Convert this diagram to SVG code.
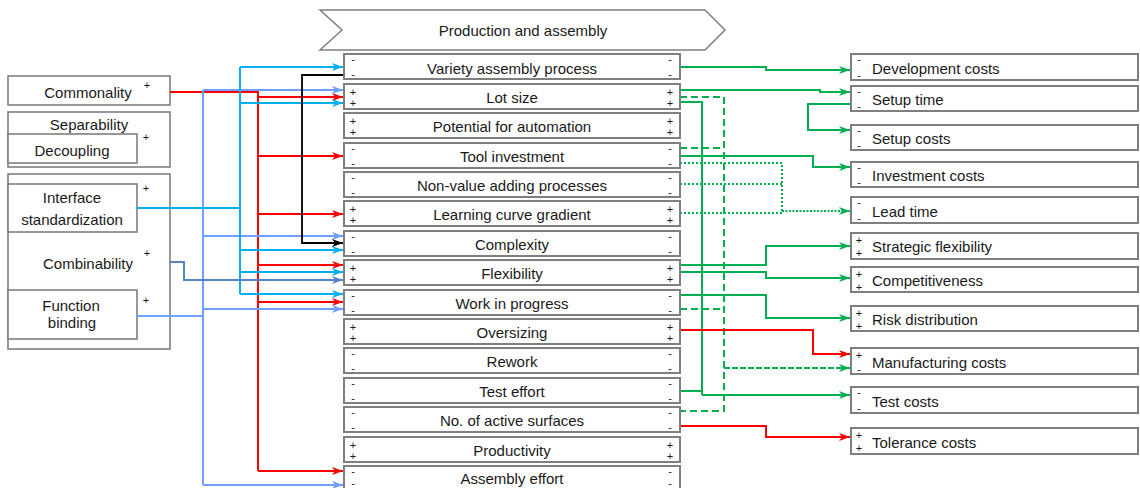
<svg xmlns="http://www.w3.org/2000/svg" width="1140" height="488" viewBox="0 0 1140 488">
  <style>
    .box { fill: #ffffff; stroke: #7f7f7f; stroke-width: 2; }
    .lbox { fill: #ffffff; stroke: #7f7f7f; stroke-width: 1.6; }
    .t { font-family: "Liberation Sans", Arial, sans-serif; font-size: 15px; fill: #1a1a1a; }
    .c { text-anchor: middle; }
    .s { font-family: "Liberation Sans", Arial, sans-serif; font-size: 11px; fill: #1a1a1a; text-anchor: middle; }
    .ln { fill: none; stroke-linejoin: miter; }
    .red { stroke: #ff0000; stroke-width: 2; }
    .cyan { stroke: #00b0f0; stroke-width: 2; }
    .corn { stroke: #6fa0ff; stroke-width: 2; }
    .steel { stroke: #5585c8; stroke-width: 2; }
    .blk { stroke: #000000; stroke-width: 1.8; }
    .grn { stroke: #00b050; stroke-width: 2; }
    .dash { stroke-dasharray: 7 4; }
    .dot { stroke-dasharray: 2 2; }
  </style>
  <defs>
    <marker id="aRed" markerUnits="userSpaceOnUse" markerWidth="12" markerHeight="10" refX="11" refY="5" orient="auto">
      <path d="M0,1 L11,5 L0,9 L3,5 Z" fill="#ff0000"/>
    </marker>
    <marker id="aCyan" markerUnits="userSpaceOnUse" markerWidth="12" markerHeight="10" refX="11" refY="5" orient="auto">
      <path d="M0,1 L11,5 L0,9 L3,5 Z" fill="#00b0f0"/>
    </marker>
    <marker id="aCorn" markerUnits="userSpaceOnUse" markerWidth="12" markerHeight="10" refX="11" refY="5" orient="auto">
      <path d="M0,1 L11,5 L0,9 L3,5 Z" fill="#6fa0ff"/>
    </marker>
    <marker id="aSteel" markerUnits="userSpaceOnUse" markerWidth="12" markerHeight="10" refX="11" refY="5" orient="auto">
      <path d="M0,1 L11,5 L0,9 L3,5 Z" fill="#5585c8"/>
    </marker>
    <marker id="aBlk" markerUnits="userSpaceOnUse" markerWidth="12" markerHeight="10" refX="11" refY="5" orient="auto">
      <path d="M0,1 L11,5 L0,9 L3,5 Z" fill="#000000"/>
    </marker>
    <marker id="aGrn" markerUnits="userSpaceOnUse" markerWidth="12" markerHeight="10" refX="11" refY="5" orient="auto">
      <path d="M0,1 L11,5 L0,9 L3,5 Z" fill="#00b050"/>
    </marker>
  </defs>

  <!-- phase banner -->
  <g id="banner">
    <polygon points="320,10 705,10 725,30 705,50 320,50 342,30" fill="#ffffff" stroke="#7f7f7f" stroke-width="1.5"/>
    <text class="t c" x="523" y="36">Production and assembly</text>
  </g>

  <!-- design properties (left) -->
  <g id="commonality">
    <rect class="lbox" x="8" y="76" width="162" height="29"/>
    <text class="t c" x="88" y="98">Commonality</text>
    <text class="s" x="147" y="89">+</text>
  </g>
  <g id="separability">
    <rect class="lbox" x="8" y="112" width="162" height="55"/>
    <text class="t c" x="89" y="130">Separability</text>
    <text class="s" x="146" y="141">+</text>
    <g id="decoupling">
      <rect class="lbox" x="8" y="134" width="129" height="29"/>
      <text class="t c" x="72" y="156">Decoupling</text>
    </g>
  </g>
  <g id="combinability">
    <rect class="lbox" x="8" y="174" width="162" height="175"/>
    <text class="t c" x="88" y="269">Combinability</text>
    <text class="s" x="147" y="257">+</text>
    <g id="interface-standardization">
      <rect class="lbox" x="8" y="184" width="129" height="48"/>
      <text class="t c" x="72" y="203">Interface</text>
      <text class="t c" x="72" y="225">standardization</text>
      <text class="s" x="146" y="192">+</text>
    </g>
    <g id="function-binding">
      <rect class="lbox" x="8" y="290" width="129" height="49"/>
      <text class="t c" x="71" y="311">Function</text>
      <text class="t c" x="72" y="328">binding</text>
      <text class="s" x="146" y="304">+</text>
    </g>
  </g>

  <!-- connectors -->
  <g id="connectors">
    <!-- Commonality -->
    <path class="ln red" d="M170,92 H258 V471" stroke-width="2.6"/>
    <path class="ln red" d="M258,97 H343" marker-end="url(#aRed)"/>
    <path class="ln red" d="M258,156 H343" marker-end="url(#aRed)"/>
    <path class="ln red" d="M258,214 H343" marker-end="url(#aRed)"/>
    <path class="ln red" d="M258,265 H343" marker-end="url(#aRed)"/>
    <path class="ln red" d="M258,302 H343" marker-end="url(#aRed)"/>
    <path class="ln red" d="M258,471 H343" marker-end="url(#aRed)"/>

    <!-- Function binding -->
    <path class="ln corn" d="M137,316 H203" stroke-width="3"/>
    <path class="ln corn" d="M203,90 V485"/>
    <path class="ln corn" d="M203,90 H343" marker-end="url(#aCorn)"/>
    <path class="ln corn" d="M203,236 H343" marker-end="url(#aCorn)"/>
    <path class="ln corn" d="M203,309 H343" marker-end="url(#aCorn)"/>
    <path class="ln corn" d="M203,485 H343" marker-end="url(#aCorn)"/>

    <!-- Interface standardization -->
    <path class="ln cyan" d="M137,208 H240" stroke-width="3"/>
    <path class="ln cyan" d="M240,67 V294"/>
    <path class="ln cyan" d="M240,67 H343" marker-end="url(#aCyan)"/>
    <path class="ln cyan" d="M240,103 H343" marker-end="url(#aCyan)"/>
    <path class="ln cyan" d="M240,250 H343" marker-end="url(#aCyan)"/>
    <path class="ln cyan" d="M240,272 H343" marker-end="url(#aCyan)"/>
    <path class="ln cyan" d="M240,294 H343" marker-end="url(#aCyan)"/>

    <!-- Combinability -->
    <path class="ln steel" d="M170,262 H184 V280 H343" marker-end="url(#aSteel)"/>

    <!-- Variety assembly process to Complexity -->
    <path class="ln blk" d="M344,75 H302 V243 H343" marker-end="url(#aBlk)"/>

    <!-- effects on cost and performance -->
    <path class="ln grn" d="M680,67 H766 V70 H850" marker-end="url(#aGrn)"/>
    <path class="ln grn" d="M680,90 H820 V92 H850" marker-end="url(#aGrn)"/>
    <path class="ln grn" d="M851,104 H808 V130 H850" marker-end="url(#aGrn)"/>
    <path class="ln grn" d="M680,102 H702 V395"/>
    <path class="ln grn" d="M680,391 H702"/>
    <path class="ln grn" d="M702,395 H850" stroke-width="3" marker-end="url(#aGrn)"/>
    <path class="ln grn dash" d="M680,97 H724 V411 H680"/>
    <path class="ln grn dash" d="M680,148 H724"/>
    <path class="ln grn dash" d="M680,309 H724"/>
    <path class="ln grn" d="M724,368 H850" stroke-width="3" stroke-dasharray="6 2" marker-end="url(#aGrn)"/>
    <path class="ln grn" d="M680,156 H813 V167 H850" marker-end="url(#aGrn)"/>
    <path class="ln grn dot" d="M680,163 H782 V211"/>
    <path class="ln grn dot" d="M680,184 H782"/>
    <path class="ln grn dot" d="M680,213 H782"/>
    <path class="ln grn" d="M782,211 H850" stroke-width="3.5" stroke-dasharray="2 1.5" marker-end="url(#aGrn)"/>
    <path class="ln grn" d="M680,265 H766 V246 H850" marker-end="url(#aGrn)"/>
    <path class="ln grn" d="M680,272 H766 V278 H850" marker-end="url(#aGrn)"/>
    <path class="ln grn" d="M680,295 H766 V318 H850" marker-end="url(#aGrn)"/>
    <path class="ln red" d="M680,330 H813 V354 H850" marker-end="url(#aRed)"/>
    <path class="ln red" d="M680,426 H766 V437 H850" marker-end="url(#aRed)"/>
  </g>

  <!-- production factors (centre) -->
  <g id="variety-assembly-process">
    <rect class="box" x="344" y="54" width="336" height="25"/>
    <text class="t c" x="512" y="74">Variety  assembly  process</text>
    <text class="s" x="353" y="63">-</text><text class="s" x="353" y="78">-</text>
    <text class="s" x="670" y="63">-</text><text class="s" x="670" y="78">-</text>
  </g>
  <g id="lot-size">
    <rect class="box" x="344" y="84" width="336" height="25"/>
    <text class="t c" x="512" y="103">Lot size</text>
    <text class="s" x="353" y="96">+</text><text class="s" x="353" y="107">+</text>
    <text class="s" x="670" y="96">+</text><text class="s" x="670" y="107">+</text>
  </g>
  <g id="potential-for-automation">
    <rect class="box" x="344" y="113" width="336" height="25"/>
    <text class="t c" x="512" y="132">Potential  for automation</text>
    <text class="s" x="353" y="125">+</text><text class="s" x="353" y="136">+</text>
    <text class="s" x="670" y="125">+</text><text class="s" x="670" y="136">+</text>
  </g>
  <g id="tool-investment">
    <rect class="box" x="344" y="143" width="336" height="25"/>
    <text class="t c" x="512" y="162">Tool investment</text>
    <text class="s" x="353" y="152">-</text><text class="s" x="353" y="167">-</text>
    <text class="s" x="670" y="152">-</text><text class="s" x="670" y="167">-</text>
  </g>
  <g id="non-value-adding-processes">
    <rect class="box" x="344" y="172" width="336" height="25"/>
    <text class="t c" x="512" y="191">Non-value adding processes</text>
    <text class="s" x="353" y="181">-</text><text class="s" x="353" y="196">-</text>
    <text class="s" x="670" y="181">-</text><text class="s" x="670" y="196">-</text>
  </g>
  <g id="learning-curve-gradient">
    <rect class="box" x="344" y="201" width="336" height="25"/>
    <text class="t c" x="512" y="220">Learning  curve gradient</text>
    <text class="s" x="353" y="213">+</text><text class="s" x="353" y="224">+</text>
    <text class="s" x="670" y="213">+</text><text class="s" x="670" y="224">+</text>
  </g>
  <g id="complexity">
    <rect class="box" x="344" y="231" width="336" height="25"/>
    <text class="t c" x="512" y="250">Complexity</text>
    <text class="s" x="353" y="240">-</text><text class="s" x="353" y="255">-</text>
    <text class="s" x="670" y="240">-</text><text class="s" x="670" y="255">-</text>
  </g>
  <g id="flexibility">
    <rect class="box" x="344" y="260" width="336" height="25"/>
    <text class="t c" x="512" y="279">Flexibility</text>
    <text class="s" x="353" y="272">+</text><text class="s" x="353" y="283">+</text>
    <text class="s" x="670" y="272">+</text><text class="s" x="670" y="283">+</text>
  </g>
  <g id="work-in-progress">
    <rect class="box" x="344" y="290" width="336" height="25"/>
    <text class="t c" x="512" y="309">Work in progress</text>
    <text class="s" x="353" y="299">-</text><text class="s" x="353" y="314">-</text>
    <text class="s" x="670" y="299">-</text><text class="s" x="670" y="314">-</text>
  </g>
  <g id="oversizing">
    <rect class="box" x="344" y="319" width="336" height="25"/>
    <text class="t c" x="512" y="338">Oversizing</text>
    <text class="s" x="353" y="331">+</text><text class="s" x="353" y="342">+</text>
    <text class="s" x="670" y="331">+</text><text class="s" x="670" y="342">+</text>
  </g>
  <g id="rework">
    <rect class="box" x="344" y="348" width="336" height="25"/>
    <text class="t c" x="512" y="367">Rework</text>
    <text class="s" x="353" y="357">-</text><text class="s" x="353" y="372">-</text>
    <text class="s" x="670" y="357">-</text><text class="s" x="670" y="372">-</text>
  </g>
  <g id="test-effort">
    <rect class="box" x="344" y="378" width="336" height="25"/>
    <text class="t c" x="512" y="397">Test effort</text>
    <text class="s" x="353" y="387">-</text><text class="s" x="353" y="402">-</text>
    <text class="s" x="670" y="387">-</text><text class="s" x="670" y="402">-</text>
  </g>
  <g id="no-of-active-surfaces">
    <rect class="box" x="344" y="407" width="336" height="25"/>
    <text class="t c" x="512" y="426">No. of active  surfaces</text>
    <text class="s" x="353" y="416">-</text><text class="s" x="353" y="431">-</text>
    <text class="s" x="670" y="416">-</text><text class="s" x="670" y="431">-</text>
  </g>
  <g id="productivity">
    <rect class="box" x="344" y="437" width="336" height="25"/>
    <text class="t c" x="512" y="456">Productivity</text>
    <text class="s" x="353" y="449">+</text><text class="s" x="353" y="460">+</text>
    <text class="s" x="670" y="449">+</text><text class="s" x="670" y="460">+</text>
  </g>
  <g id="assembly-effort">
    <rect class="box" x="344" y="466" width="336" height="25"/>
    <text class="t c" x="512" y="484">Assembly effort</text>
    <text class="s" x="353" y="475">-</text><text class="s" x="353" y="487">-</text>
    <text class="s" x="670" y="475">-</text><text class="s" x="670" y="487">-</text>
  </g>

  <!-- target figures (right) -->
  <g id="development-costs">
    <rect class="box" x="851" y="54" width="287" height="26"/>
    <text class="t" x="872" y="74">Development  costs</text>
    <text class="s" x="859" y="63">-</text><text class="s" x="859" y="79">-</text>
  </g>
  <g id="setup-time">
    <rect class="box" x="851" y="86" width="287" height="25"/>
    <text class="t" x="872" y="105">Setup time</text>
    <text class="s" x="859" y="95">-</text><text class="s" x="859" y="110">-</text>
  </g>
  <g id="setup-costs">
    <rect class="box" x="851" y="125" width="287" height="25"/>
    <text class="t" x="872" y="144">Setup costs</text>
    <text class="s" x="859" y="134">-</text><text class="s" x="859" y="149">-</text>
  </g>
  <g id="investment-costs">
    <rect class="box" x="851" y="162" width="287" height="25"/>
    <text class="t" x="872" y="181">Investment  costs</text>
    <text class="s" x="859" y="171">-</text><text class="s" x="859" y="186">-</text>
  </g>
  <g id="lead-time">
    <rect class="box" x="851" y="197" width="287" height="26"/>
    <text class="t" x="872" y="217">Lead time</text>
    <text class="s" x="859" y="206">-</text><text class="s" x="859" y="222">-</text>
  </g>
  <g id="strategic-flexibility">
    <rect class="box" x="851" y="233" width="287" height="26"/>
    <text class="t" x="872" y="252">Strategic  flexibility</text>
    <text class="s" x="859" y="244">+</text><text class="s" x="859" y="257">+</text>
  </g>
  <g id="competitiveness">
    <rect class="box" x="851" y="267" width="287" height="25"/>
    <text class="t" x="872" y="286">Competitiveness</text>
    <text class="s" x="859" y="278">+</text><text class="s" x="859" y="291">+</text>
  </g>
  <g id="risk-distribution">
    <rect class="box" x="851" y="306" width="287" height="25"/>
    <text class="t" x="872" y="325">Risk distribution</text>
    <text class="s" x="859" y="317">+</text><text class="s" x="859" y="330">+</text>
  </g>
  <g id="manufacturing-costs">
    <rect class="box" x="851" y="348" width="287" height="26"/>
    <text class="t" x="872" y="368">Manufacturing costs</text>
    <text class="s" x="859" y="359">+</text><text class="s" x="859" y="373">-</text>
  </g>
  <g id="test-costs">
    <rect class="box" x="851" y="387" width="287" height="26"/>
    <text class="t" x="872" y="407">Test costs</text>
    <text class="s" x="859" y="396">-</text><text class="s" x="859" y="412">-</text>
  </g>
  <g id="tolerance-costs">
    <rect class="box" x="851" y="428" width="287" height="26"/>
    <text class="t" x="872" y="448">Tolerance  costs</text>
    <text class="s" x="859" y="439">+</text><text class="s" x="859" y="452">+</text>
  </g>
</svg>
